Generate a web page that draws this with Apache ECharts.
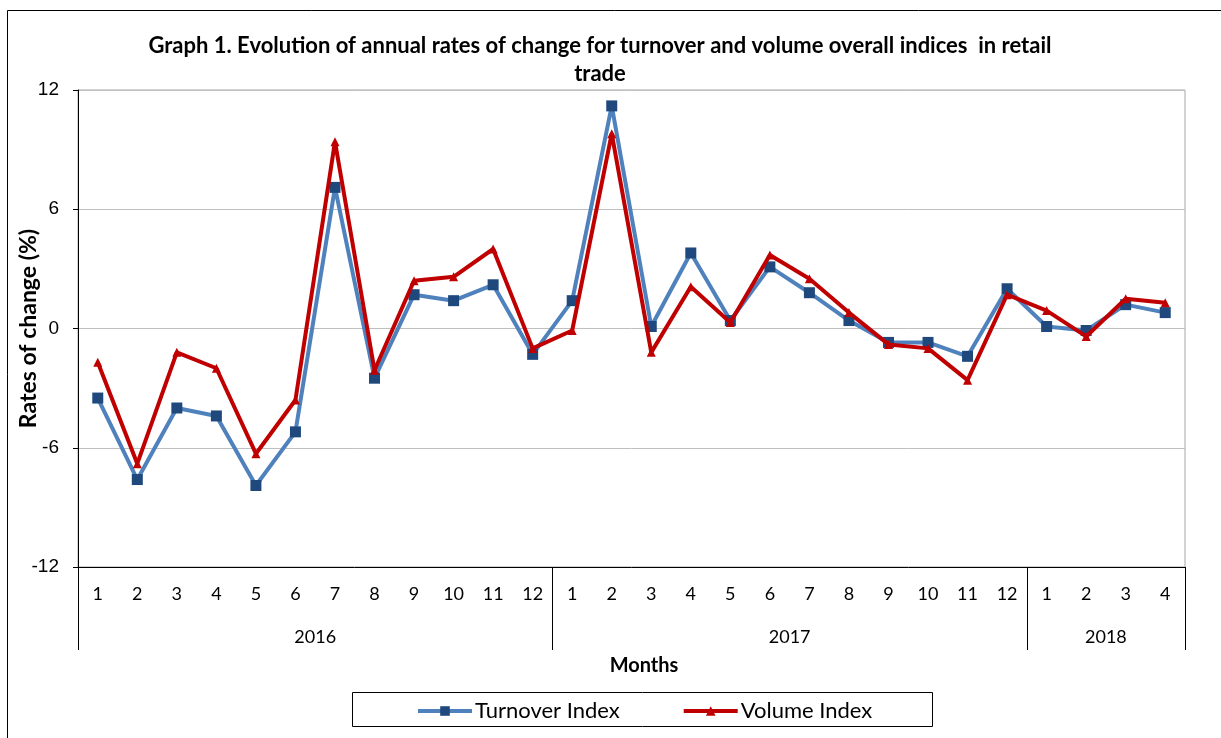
<!DOCTYPE html>
<html>
<head>
<meta charset="utf-8">
<script src="https://cdn.jsdelivr.net/npm/echarts@6/dist/echarts.min.js"></script>
<style>
  html, body { margin: 0; padding: 0; background: #fff; }
  #chart { width: 1221px; height: 738px; }
</style>
</head>
<body>
<div id="chart"></div>
<script>
const months = ['1','2','3','4','5','6','7','8','9','10','11','12',
                '1','2','3','4','5','6','7','8','9','10','11','12',
                '1','2','3','4'];
const years = ['2016', '2017', '2018'];
const monthsPerYear = [12, 12, 4];
const turnover = [-3.5, -7.6, -4.0, -4.4, -7.9, -5.2, 7.1, -2.5, 1.7, 1.4, 2.2, -1.3,
                  1.4, 11.2, 0.1, 3.8, 0.4, 3.1, 1.8, 0.4, -0.7, -0.7, -1.4, 2.0,
                  0.1, -0.1, 1.2, 0.8];
const volume = [-1.7, -6.8, -1.2, -2.0, -6.3, -3.6, 9.4, -2.1, 2.4, 2.6, 4.0, -1.0,
                -0.1, 9.8, -1.2, 2.1, 0.3, 3.7, 2.5, 0.8, -0.8, -1.0, -2.6, 1.7,
                0.9, -0.4, 1.5, 1.3];
const yTicks = [-12, -6, 0, 6, 12];

// year group boundaries and centres, in category units
const yearEdges = [0];
const yearCenters = [];
monthsPerYear.forEach(function (n, i) {
  yearCenters.push(yearEdges[i] + n / 2);
  yearEdges.push(yearEdges[i] + n);
});

const chart = echarts.init(document.getElementById('chart'));
chart.setOption({
  animation: false,
  title: {
    text: 'Graph 1. Evolution of annual rates of change for turnover and volume overall indices  in retail\ntrade',
    left: 595,
    top: 27,
    textAlign: 'center',
    textStyle: {
      fontFamily: 'Lato',
      fontSize: 22,
      fontWeight: 'bold',
      color: '#000',
      lineHeight: 28
    }
  },
  graphic: [
    {
      type: 'rect',
      shape: { x: 7.5, y: 10.5, width: 1300, height: 800 },
      style: { fill: 'none', stroke: '#000', lineWidth: 1 },
      silent: true
    },
    {
      type: 'rect',
      shape: { x: 352.5, y: 692.5, width: 580, height: 34 },
      style: { fill: 'none', stroke: '#000', lineWidth: 1 },
      silent: true
    }
  ],
  legend: {
    left: 416,
    top: 700,
    padding: 0,
    itemWidth: 54,
    itemHeight: 12,
    itemGap: 62,
    lineStyle: { width: 4 },
    textStyle: { fontFamily: 'Lato', fontSize: 22, color: '#000', padding: [0, 0, 0, -2] },
    data: ['Turnover Index', 'Volume Index']
  },
  grid: {
    left: 78,
    right: 36,
    top: 90,
    bottom: 171,
    show: true,
    borderColor: '#a6a6a6',
    borderWidth: 1
  },
  xAxis: [
    {
      type: 'category',
      data: months,
      boundaryGap: true,
      axisLine: { onZero: false, lineStyle: { color: '#000', width: 1 } },
      axisTick: { interval: 0, length: 41, lineStyle: { color: '#000' } },
      axisLabel: { interval: 0, margin: 18, fontFamily: 'Lato', fontSize: 18, color: '#000' }
    },
    {
      type: 'value',
      min: 0,
      max: 28,
      position: 'bottom',
      name: 'Months',
      nameLocation: 'middle',
      nameGap: 89,
      nameMoveOverlap: false,
      nameTextStyle: {
        fontFamily: 'Lato', fontSize: 20, fontWeight: 'bold', color: '#000',
        padding: [0, 0, 0, 25]
      },
      axisLine: { show: false, onZero: false },
      splitLine: { show: false },
      axisTick: { show: true, customValues: yearEdges, length: 83, lineStyle: { color: '#000' } },
      axisLabel: {
        customValues: yearCenters,
        margin: 61,
        fontFamily: 'Lato',
        fontSize: 18,
        color: '#000',
        formatter: function (v) {
          const i = yearCenters.indexOf(v);
          return i >= 0 ? years[i] : '';
        }
      }
    }
  ],
  yAxis: {
    type: 'value',
    min: yTicks[0],
    max: yTicks[yTicks.length - 1],
    interval: 6,
    name: 'Rates of change (%)',
    nameLocation: 'middle',
    nameGap: 38,
    nameMoveOverlap: false,
    nameTextStyle: { fontFamily: 'Lato', fontSize: 23, fontWeight: 'bold', color: '#000' },
    axisLine: { show: true, lineStyle: { color: '#000', width: 1 } },
    axisTick: { show: true, length: 5, lineStyle: { color: '#000' } },
    axisLabel: { margin: 19, fontFamily: 'Liberation Sans', fontSize: 19, color: '#000' },
    splitLine: { lineStyle: { color: '#bfbfbf', width: 1 } }
  },
  series: [
    {
      name: 'Turnover Index',
      type: 'line',
      data: turnover,
      symbol: 'rect',
      symbolSize: 11,
      itemStyle: { color: '#1f497d' },
      lineStyle: { color: '#4f81bd', width: 4 },
      z: 2
    },
    {
      name: 'Volume Index',
      type: 'line',
      data: volume,
      symbol: 'triangle',
      symbolSize: 9,
      itemStyle: { color: '#c00000' },
      lineStyle: { color: '#c00000', width: 4 },
      z: 3
    }
  ]
});
</script>
</body>
</html>
